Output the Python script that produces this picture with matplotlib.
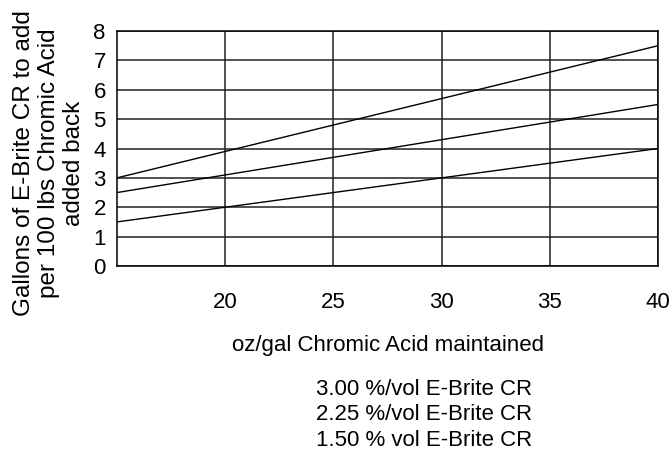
import numpy as np
import matplotlib.pyplot as plt

plt.rcParams['font.family'] = ['Liberation Sans', 'DejaVu Sans']

# oz/gal chromic acid maintained
x = [15, 20, 25, 30, 35, 40]
# gallons of E-Brite CR per 100 lbs chromic acid
y_300 = [3.0, 3.9, 4.8, 5.7, 6.6, 7.5]
y_225 = [2.5, 3.1, 3.7, 4.3, 4.9, 5.5]
y_150 = [1.5, 2.0, 2.5, 3.0, 3.5, 4.0]
series_names = ['3.00 %/vol E-Brite CR', '2.25 %/vol E-Brite CR', '1.50 % vol E-Brite CR']
x_ticks = [20, 25, 30, 35, 40]
y_ticks = [0, 1, 2, 3, 4, 5, 6, 7, 8]

fig = plt.figure(figsize=(6.72, 4.57), dpi=100)
ax = fig.add_axes([0.174, 0.418, 0.805, 0.514])

for yv in [y_300, y_225, y_150]:
    ax.plot(x, yv, color='black', linewidth=1.0, zorder=3)

ax.set_xlim(15, 40)
ax.set_ylim(0, 8)
ax.set_xticks(x_ticks)
ax.set_yticks(y_ticks)
ax.grid(True, color='#202020', linewidth=1.1)
ax.tick_params(length=0, labelsize=16)
ax.tick_params(axis='x', pad=19)
ax.tick_params(axis='y', pad=8)
for s in ax.spines.values():
    s.set_color('black')
    s.set_linewidth(1.1)

fig.text(0.577, 0.245, 'oz/gal Chromic Acid maintained', ha='center', va='center', fontsize=16)
fig.text(0.073, 0.643, 'Gallons of E-Brite CR to add\nper 100 lbs Chromic Acid\nadded back',
         rotation=90, ha='center', va='center', fontsize=17.5, linespacing=1.2)

for i, name in enumerate(series_names):
    fig.text(0.631, 0.147 - i * 0.055, name, ha='center', va='center', fontsize=16)

fig.savefig('out.png', dpi=100)
